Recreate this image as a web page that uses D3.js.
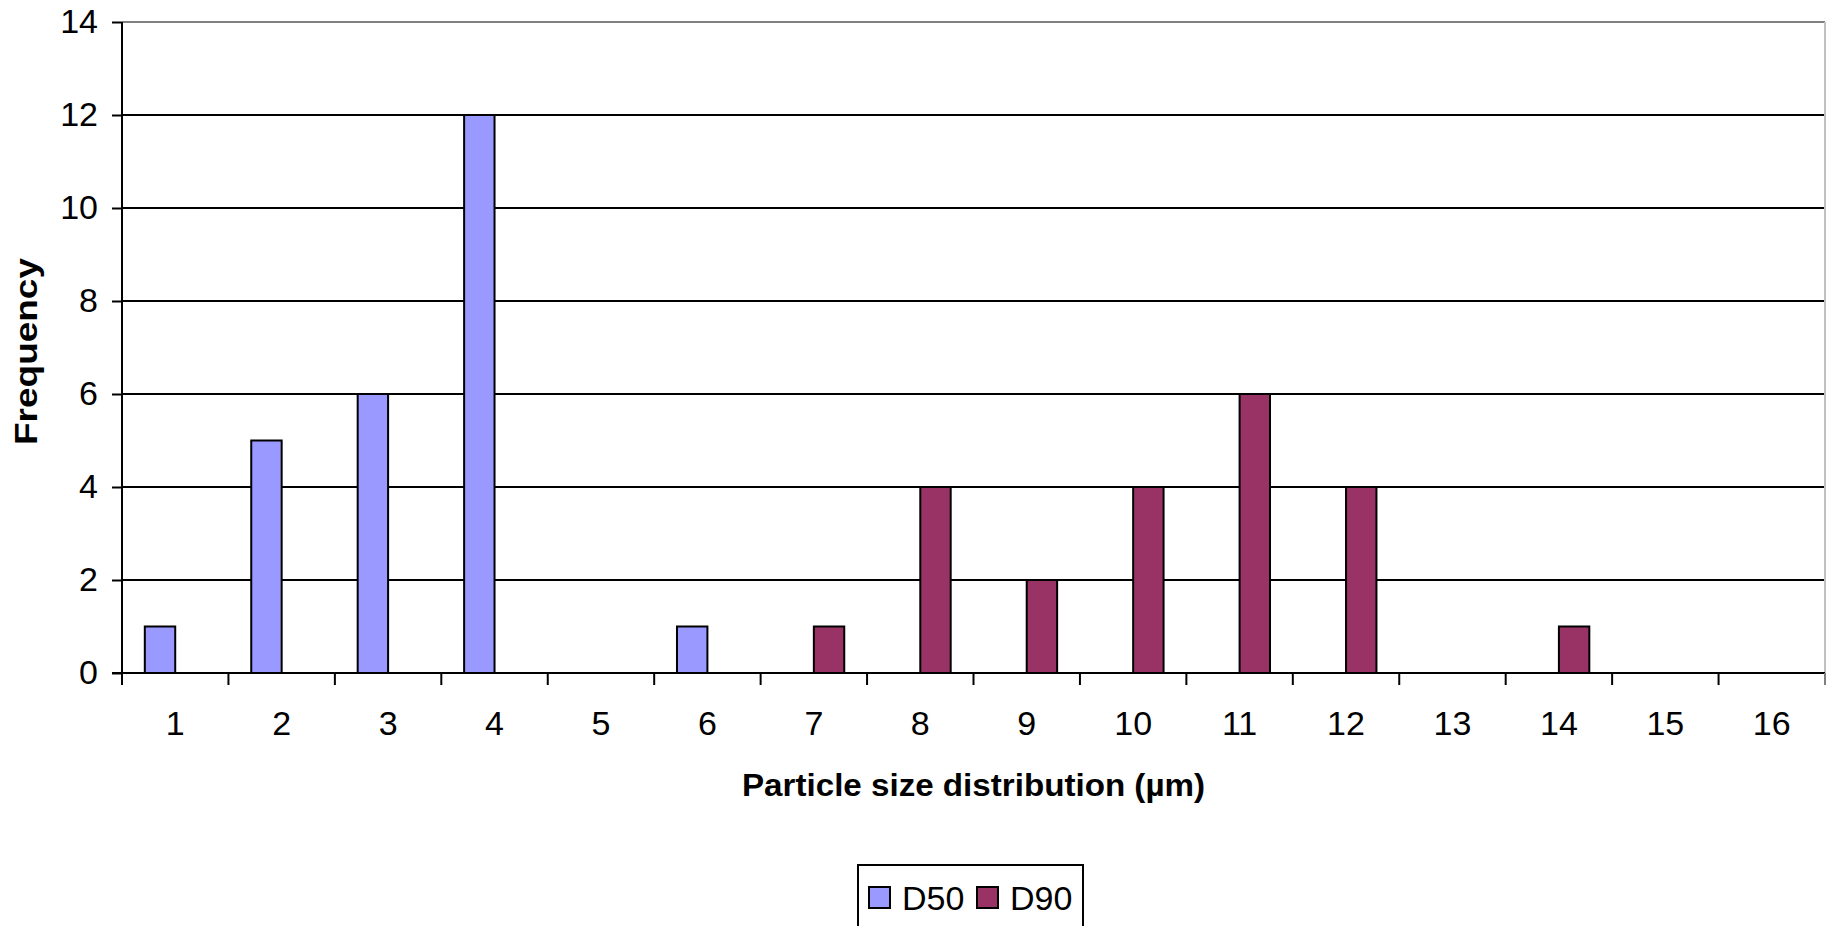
<!DOCTYPE html>
<html>
<head>
<meta charset="utf-8">
<script src="https://cdn.jsdelivr.net/npm/d3@7"></script>
<style>
  html, body { margin: 0; padding: 0; background: #fff; }
  svg { display: block; }
  text { font-family: "Liberation Sans", Arial, sans-serif; fill: #000; }
</style>
</head>
<body>
<svg id="chart" width="1826" height="926"></svg>
<script>
// Particle size classes (µm) and the frequency counts for each series
const categories = ["1","2","3","4","5","6","7","8","9","10","11","12","13","14","15","16"];
const seriesNames = ["D50", "D90"];
const d50Values = [1, 5, 6, 12, 0, 1, 0, 0, 0, 0, 0, 0, 0, 0, 0, 0];
const d90Values = [0, 0, 0, 0, 0, 0, 1, 4, 2, 4, 6, 4, 0, 1, 0, 0];
const yTicks = [0, 2, 4, 6, 8, 10, 12, 14];
const seriesColors = ["#9999FF", "#993366"];

const svg = d3.select("#chart");
const plot = { left: 122, right: 1825, top: 22, bottom: 673 };

const x = d3.scaleBand().domain(categories).range([plot.left, plot.right]).paddingInner(0).paddingOuter(0);
// Excel-style grouping: gap width 150% => each bar is band / 3.5 wide
const xInner = d3.scaleBand().domain(seriesNames).range([0, x.bandwidth()]).paddingInner(0).paddingOuter(0.75);
const y = d3.scaleLinear().domain([0, 14]).range([plot.bottom, plot.top]);

// horizontal gridlines
svg.append("g").selectAll("line")
  .data(yTicks.filter(t => t > 0))
  .join("line")
  .attr("x1", plot.left).attr("x2", plot.right)
  .attr("y1", d => y(d)).attr("y2", d => y(d))
  .attr("stroke", d => d === 14 ? "#808080" : "#000")
  .attr("stroke-width", 2);

// right border of plot area
svg.append("line")
  .attr("x1", plot.right).attr("x2", plot.right)
  .attr("y1", plot.top).attr("y2", plot.bottom)
  .attr("stroke", "#c0c0c0").attr("stroke-width", 2);

// bars
const rows = categories.map((c, i) => ({ cat: c, vals: [d50Values[i], d90Values[i]] }));
const groups = svg.append("g").selectAll("g")
  .data(rows).join("g")
  .attr("transform", d => `translate(${x(d.cat)},0)`);
groups.selectAll("rect")
  .data(d => d.vals.map((v, k) => ({ key: seriesNames[k], v, k })).filter(e => e.v > 0))
  .join("rect")
  .attr("x", d => xInner(d.key))
  .attr("width", xInner.bandwidth())
  .attr("y", d => y(d.v))
  .attr("height", d => y(0) - y(d.v))
  .attr("fill", d => seriesColors[d.k])
  .attr("stroke", "#000")
  .attr("stroke-width", 2);

// y axis
const yAxis = d3.axisLeft(y).tickValues(yTicks).tickSize(10).tickPadding(14).tickSizeOuter(0);
const gy = svg.append("g").attr("transform", `translate(${plot.left},0)`).call(yAxis);
gy.select(".domain").attr("stroke", "#000").attr("stroke-width", 2)
  .attr("d", `M0,${plot.top}V${plot.bottom + 12}`);
gy.selectAll(".tick line").attr("stroke", "#000").attr("stroke-width", 2);
gy.selectAll(".tick text").attr("font-size", 34).attr("font-family", "Liberation Sans, Arial, sans-serif").attr("fill", "#000");

// x axis: ticks at category boundaries
const gx = svg.append("g");
gx.append("line")
  .attr("x1", plot.left - 10).attr("x2", plot.right)
  .attr("y1", plot.bottom).attr("y2", plot.bottom)
  .attr("stroke", "#000").attr("stroke-width", 2);
const boundaries = categories.map(c => x(c)).concat([x(categories[categories.length - 1]) + x.bandwidth()]);
gx.selectAll("line.tk").data(boundaries.slice(1)).join("line")
  .attr("class", "tk")
  .attr("x1", d => d).attr("x2", d => d)
  .attr("y1", plot.bottom).attr("y2", plot.bottom + 12)
  .attr("stroke", (d, i) => i === boundaries.length - 2 ? "#808080" : "#000")
  .attr("stroke-width", 2);
gx.selectAll("text").data(categories).join("text")
  .attr("x", d => x(d) + x.bandwidth() / 2)
  .attr("y", 735)
  .attr("text-anchor", "middle")
  .attr("font-size", 34)
  .text(d => d);

// axis titles
svg.append("text")
  .attr("x", (plot.left + plot.right) / 2)
  .attr("y", 796)
  .attr("text-anchor", "middle")
  .attr("font-size", 32)
  .attr("font-weight", "bold")
  .attr("textLength", 463)
  .attr("lengthAdjust", "spacingAndGlyphs")
  .text("Particle size distribution (µm)");

svg.append("text")
  .attr("transform", `translate(37,${(plot.top + plot.bottom) / 2 + 4}) rotate(-90)`)
  .attr("text-anchor", "middle")
  .attr("font-size", 32)
  .attr("font-weight", "bold")
  .attr("textLength", 187)
  .attr("lengthAdjust", "spacingAndGlyphs")
  .text("Frequency");

// legend
const legend = svg.append("g");
legend.append("rect")
  .attr("x", 858).attr("y", 865).attr("width", 225).attr("height", 80)
  .attr("fill", "#fff").attr("stroke", "#000").attr("stroke-width", 2);
const legendX = [869, 977];
seriesNames.forEach((name, k) => {
  legend.append("rect")
    .attr("x", legendX[k]).attr("y", 887).attr("width", 21).attr("height", 21)
    .attr("fill", seriesColors[k]).attr("stroke", "#000").attr("stroke-width", 2);
  legend.append("text")
    .attr("x", legendX[k] + 33).attr("y", 910)
    .attr("font-size", 34)
    .text(name);
});
</script>
</body>
</html>
